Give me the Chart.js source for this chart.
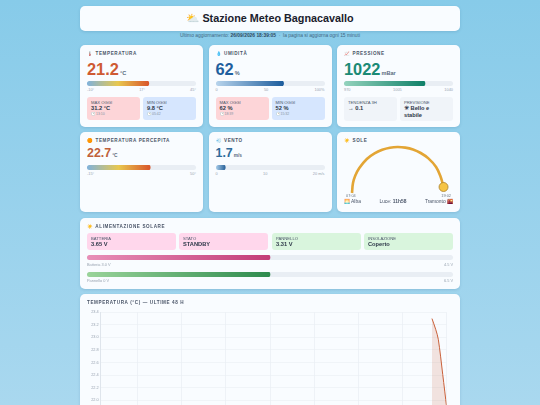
<!DOCTYPE html>
<html lang="it">
<head>
<meta charset="utf-8">
<title>Stazione Meteo Bagnacavallo</title>
<script src="https://cdn.jsdelivr.net/npm/chart.js@4"></script>
<style>
* { box-sizing: border-box; margin: 0; padding: 0; }
html, body { width: 540px; height: 405px; overflow: hidden; }
body { background: linear-gradient(180deg, #87cbe9 0%, #a9d8ef 100%); font-family: "Liberation Sans", Arial, sans-serif; color: #2d3748; position: relative; }
.box { position: absolute; background: #f9fcff; border-radius: 5px; box-shadow: 0 1px 3px rgba(40,90,130,.18); }
header { left: 80px; top: 6px; width: 380px; height: 25px; background: linear-gradient(100deg, #fffbe6 0%, #f6f9f4 50%, #e6f2fa 100%); display: flex; align-items: center; justify-content: center; font-size: 10.8px; font-weight: bold; color: #1a202c; }
.sub { position: absolute; left: 80px; top: 33px; width: 380px; text-align: center; font-size: 4.9px; line-height: 6px; color: #3f6783; }
.sub b { color: #2d4a60; }
.label { position: absolute; left: 7px; top: 6px; font-size: 4.6px; line-height: 6px; font-weight: bold; letter-spacing: .6px; color: #4a5568; white-space: nowrap; }
.big { position: absolute; left: 7px; top: 14px; font-size: 16.4px; line-height: 20px; font-weight: bold; white-space: nowrap; }
.big small { font-size: 5.6px; font-weight: bold; color: #5a6b7d; margin-left: 1px; }
.mid { top: 11px; font-size: 12.4px; line-height: 20px; }
.mid small { font-size: 4.8px; }
.track { position: absolute; left: 7px; width: 109px; height: 5px; background: #e9eef4; border-radius: 3px; overflow: hidden; }
.scale { position: absolute; left: 7px; width: 109px; display: flex; justify-content: space-between; font-size: 3.9px; line-height: 5px; color: #98a3b0; }
.mini { position: absolute; border-radius: 3px; padding: 3px 4px; font-size: 4.2px; line-height: 5px; color: #4a5568; }
.mini b { display: block; font-size: 5.7px; line-height: 7px; color: #2d3748; }
.mini i { display: block; font-style: normal; font-size: 3.5px; line-height: 5px; color: #8693a3; }
.max { background: #fdd5d8; } .min { background: #d6e6fe; } .soft { background: #f0f4f9; }
.pink { background: #ffd7ec; } .green { background: #d9f5dd; }
.sun-row { position: absolute; left: 7px; right: 7px; top: 66px; display: flex; justify-content: space-between; font-size: 4.9px; line-height: 7px; color: #4a5568; }
.sun-time { position: absolute; top: 61px; font-size: 3.9px; line-height: 5px; color: #6b7785; }
</style>
</head>
<body>
<header class="box">⛅&nbsp;Stazione Meteo Bagnacavallo</header>
<div class="sub">Ultimo aggiornamento: <b>26/09/2026 18:39:05</b> &nbsp;·&nbsp; la pagina si aggiorna ogni 15 minuti</div>

<div class="box" style="left:80px;top:45px;width:123px;height:82px">
  <div class="label">🌡️ TEMPERATURA</div>
  <div class="big" style="color:#cf5a33">21.2<small>°C</small></div>
  <div class="track" style="top:36px"><canvas id="gTemp"></canvas></div>
  <div class="scale" id="sTemp" style="top:42px"></div>
  <div class="mini max" style="left:7px;top:52px;width:53px;height:23px">MAX OGGI<b>31.2 °C</b><i>🕐 13:10</i></div>
  <div class="mini min" style="left:63px;top:52px;width:53px;height:23px">MIN OGGI<b>9.8 °C</b><i>🕐 05:42</i></div>
</div>

<div class="box" style="left:208.5px;top:45px;width:123px;height:82px">
  <div class="label">💧 UMIDITÀ</div>
  <div class="big" style="color:#1f5f9e">62<small>%</small></div>
  <div class="track" style="top:36px"><canvas id="gHum"></canvas></div>
  <div class="scale" id="sHum" style="top:42px"></div>
  <div class="mini max" style="left:7px;top:52px;width:53px;height:23px">MAX OGGI<b>62 %</b><i>🕐 18:39</i></div>
  <div class="mini min" style="left:63px;top:52px;width:53px;height:23px">MIN OGGI<b>52 %</b><i>🕐 15:32</i></div>
</div>

<div class="box" style="left:337px;top:45px;width:123px;height:82px">
  <div class="label">📈 PRESSIONE</div>
  <div class="big" style="color:#1b8a75">1022<small>mBar</small></div>
  <div class="track" style="top:36px"><canvas id="gPres"></canvas></div>
  <div class="scale" id="sPres" style="top:42px"></div>
  <div class="mini soft" style="left:7px;top:52px;width:53px;height:24px">TENDENZA 3H<b>→ 0.1</b></div>
  <div class="mini soft" style="left:63px;top:52px;width:53px;height:24px">PREVISIONE<b>☀ Bello e<br>stabile</b></div>
</div>

<div class="box" style="left:80px;top:132px;width:123px;height:80px">
  <div class="label">🟠 TEMPERATURA PERCEPITA</div>
  <div class="big mid" style="color:#c0603a">22.7<small>°C</small></div>
  <div class="track" style="top:33px"><canvas id="gFeel"></canvas></div>
  <div class="scale" id="sFeel" style="top:39px"></div>
</div>

<div class="box" style="left:208.5px;top:132px;width:123px;height:80px">
  <div class="label">💨 VENTO</div>
  <div class="big mid" style="color:#2f6b9a">1.7<small>m/s</small></div>
  <div class="track" style="top:33px"><canvas id="gWind"></canvas></div>
  <div class="scale" id="sWind" style="top:39px"></div>
</div>

<div class="box" style="left:337px;top:132px;width:123px;height:80px">
  <div class="label">☀️ SOLE</div>
  <canvas id="sunArc" style="position:absolute;left:8px;top:8px"></canvas>
  <div class="sun-time" style="left:9px">07:04</div>
  <div class="sun-time" style="right:9px">19:02</div>
  <div class="sun-row"><span>🌅 Alba</span><span>Luce: <b>11h58</b></span><span>Tramonto 🌇</span></div>
</div>

<div class="box" style="left:80px;top:218px;width:380px;height:71px">
  <div class="label">☀️ ALIMENTAZIONE SOLARE</div>
  <div class="mini pink" style="left:7px;top:15px;width:89px;height:17px">BATTERIA<b>3.65 V</b></div>
  <div class="mini pink" style="left:99px;top:15px;width:89px;height:17px">STATO<b>STANDBY</b></div>
  <div class="mini green" style="left:192px;top:15px;width:89px;height:17px">PANNELLO<b>3.31 V</b></div>
  <div class="mini green" style="left:284px;top:15px;width:89px;height:17px">INSOLAZIONE<b>Coperto</b></div>
  <div class="track" style="top:37px;width:366px"><canvas id="gBatt"></canvas></div>
  <div class="scale" id="sBatt" style="top:44px;width:366px"></div>
  <div class="track" style="top:54px;width:366px"><canvas id="gPan"></canvas></div>
  <div class="scale" id="sPan" style="top:60px;width:366px"></div>
</div>

<div class="box" style="left:80px;top:294px;width:380px;height:200px">
  <div class="label" style="top:6px">TEMPERATURA (°C) — ULTIME 48 H</div>
  <canvas id="tempChart" style="position:absolute;left:0;top:14px"></canvas>
</div>

<script>
const tempGauge = [21.2];
const tempRange = [-10, 45];
const tempTicks = ["-10°", "17°", "45°"];
const humGauge = [62];
const humRange = [0, 100];
const humTicks = ["0", "50", "100%"];
const presGauge = [1022];
const presRange = [970, 1040];
const presTicks = ["970", "1005", "1040"];
const feelGauge = [22.7];
const feelRange = [-15, 50];
const feelTicks = ["-15°", "50°"];
const windGauge = [1.7];
const windRange = [0, 20];
const windTicks = ["0", "10", "20 m/s"];
const battGauge = [3.75];
const battRange = [3.0, 4.5];
const battTicks = ["Batteria 3.0 V", "4.5 V"];
const panGauge = [3.25];
const panRange = [0, 6.5];
const panTicks = ["Pannello 0 V", "6.5 V"];

// arco del sole: ora del giorno, altezza sull'orizzonte
const sunHours = [7.07, 7.2, 7.5, 8, 9, 10, 11, 12, 13, 14, 15, 16, 17, 18, 18.6, 18.97];
const sunHeights = [0, 10, 17.5, 24.8, 34, 39.6, 43.2, 45.3, 46, 45.4, 43.5, 40, 34.6, 26, 16, 6];

// temperatura ultime 48 h (ore rispetto ad adesso)
const tempHours = [-2, -1.5, -1.14, -0.54, 0];
const tempValues = [23.3, 23.13, 22.97, 22.41, 21.88];
const hourTicks = [-47, -42, -36, -30, -24, -18, -12, -6, 0];
const tempAxisTicks = [21.0, 21.2, 21.4, 21.6, 21.8, 22.0, 22.2, 22.4, 22.6, 22.8, 23.0, 23.2, 23.4];

function drawGauge(id, scaleId, value, range, ticks, colors) {
  const canvas = document.getElementById(id);
  const track = canvas.parentElement;
  canvas.width = track.clientWidth;
  canvas.height = track.clientHeight;
  new Chart(canvas, {
    type: "bar",
    data: {
      labels: [""],
      datasets: [{
        data: value,
        barPercentage: 1,
        categoryPercentage: 1,
        borderRadius: 3,
        borderSkipped: false,
        base: range[0],
        backgroundColor: (ctx) => {
          const area = ctx.chart.chartArea;
          if (!area) return colors[0];
          const end = ctx.chart.scales.x.getPixelForValue(value[0]);
          const g = ctx.chart.ctx.createLinearGradient(area.left, 0, end, 0);
          colors.forEach((c, i) => g.addColorStop(i / (colors.length - 1), c));
          return g;
        }
      }]
    },
    options: {
      indexAxis: "y",
      responsive: false,
      animation: false,
      layout: { padding: 0, autoPadding: false },
      plugins: { legend: { display: false }, tooltip: { enabled: false } },
      scales: {
        x: { display: false, min: range[0], max: range[1] },
        y: { display: false }
      }
    }
  });
  document.getElementById(scaleId).innerHTML = ticks.map((t) => "<span>" + t + "</span>").join("");
}

const heat = ["#7fb2dc", "#e8c84f", "#d9562b"];
drawGauge("gTemp", "sTemp", tempGauge, tempRange, tempTicks, heat);
drawGauge("gHum", "sHum", humGauge, humRange, humTicks, ["#b8d4ec", "#1c5c9c"]);
drawGauge("gPres", "sPres", presGauge, presRange, presTicks, ["#94d3bd", "#0f8068"]);
drawGauge("gFeel", "sFeel", feelGauge, feelRange, feelTicks, heat);
drawGauge("gWind", "sWind", windGauge, windRange, windTicks, ["#a8cdea", "#2a6299"]);
drawGauge("gBatt", "sBatt", battGauge, battRange, battTicks, ["#e88fb8", "#c23d78"]);
drawGauge("gPan", "sPan", panGauge, panRange, panTicks, ["#9ad49a", "#2e8b4e"]);

/* Arco del sole */
const sunCanvas = document.getElementById("sunArc");
sunCanvas.width = 107;
sunCanvas.height = 60;
new Chart(sunCanvas, {
  type: "scatter",
  data: {
    datasets: [{
      data: sunHours.map((h, i) => ({ x: h, y: sunHeights[i] })),
      showLine: true,
      tension: 0.4,
      borderColor: "#e3a535",
      borderWidth: 2.6,
      pointRadius: (ctx) => (ctx.dataIndex === sunHours.length - 1 ? 4.5 : 0),
      pointBackgroundColor: "#f6c445",
      pointBorderColor: "#a9822e",
      pointBorderWidth: 0.8
    }]
  },
  options: {
    responsive: false,
    animation: false,
    layout: { padding: 0, autoPadding: false },
    plugins: { legend: { display: false }, tooltip: { enabled: false } },
    scales: {
      x: { display: false, min: 6.16, max: 20.07 },
      y: { display: false, min: -7, max: 53 }
    }
  }
});

/* Grafico temperatura */
const tempCanvas = document.getElementById("tempChart");
tempCanvas.width = 380;
tempCanvas.height = 160;
new Chart(tempCanvas, {
  type: "line",
  data: {
    datasets: [{
      data: tempHours.map((h, i) => ({ x: h, y: tempValues[i] })),
      borderColor: "#c9603a",
      borderWidth: 1,
      backgroundColor: "rgba(200,96,58,.16)",
      fill: "start",
      pointRadius: 0,
      tension: 0.3
    }]
  },
  options: {
    responsive: false,
    animation: false,
    layout: { padding: { left: 7, right: 13.3, top: 4.3, bottom: 5 }, autoPadding: false },
    plugins: { legend: { display: false }, tooltip: { enabled: false } },
    scales: {
      x: {
        type: "linear",
        min: hourTicks[0],
        max: 0,
        afterBuildTicks: (axis) => { axis.ticks = hourTicks.map((v) => ({ value: v })); },
        grid: { color: "#e6ebf1", lineWidth: 0.6, drawTicks: false },
        border: { color: "#dfe5ec" },
        ticks: { display: false }
      },
      y: {
        min: 21.0,
        max: 23.4,
        afterBuildTicks: (axis) => { axis.ticks = tempAxisTicks.map((v) => ({ value: v })); },
        afterFit: (axis) => { axis.width = 13.7; },
        grid: { color: "#e9eef3", lineWidth: 0.6, tickLength: 1 },
        border: { color: "#dfe5ec" },
        ticks: {
          color: "#98a3b0",
          font: { size: 3.9, family: "Liberation Sans" },
          padding: 1,
          callback: (v) => v.toFixed(1)
        }
      }
    }
  }
});
</script>
</body>
</html>
